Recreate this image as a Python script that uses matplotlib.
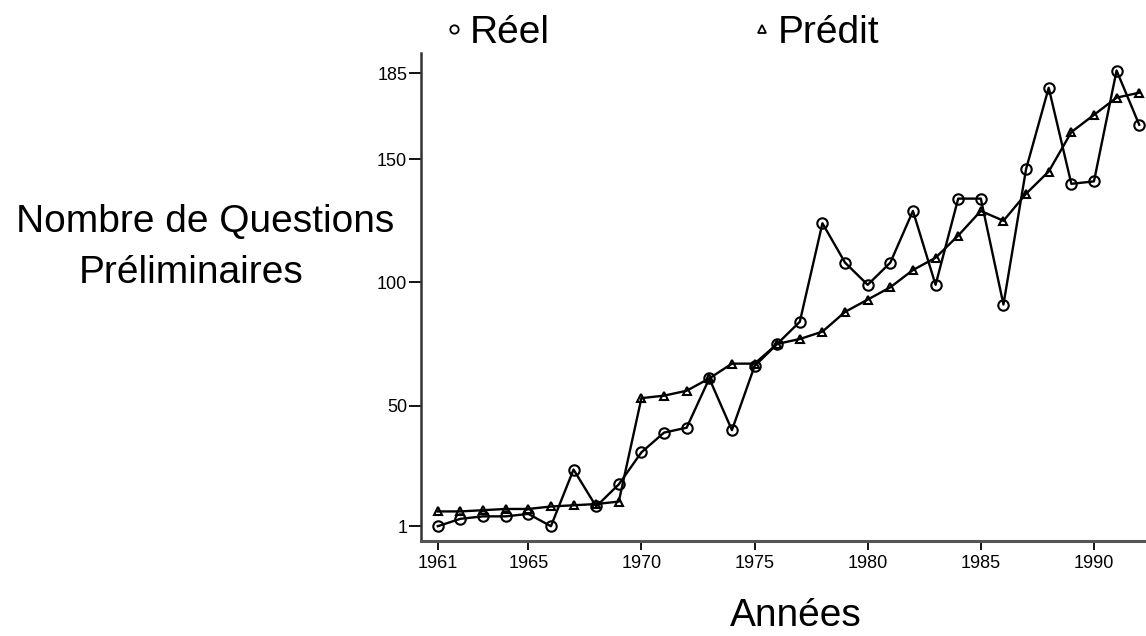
# Questions preliminaires par annee : reel vs predit

import matplotlib
matplotlib.use("Agg")
import matplotlib.pyplot as plt
from matplotlib.lines import Line2D

annees = list(range(1961, 1993))
reel = [1, 4, 5, 5, 6, 1, 24, 9, 18, 31, 39, 41, 61, 40, 66, 75,
        84, 124, 108, 99, 108, 129, 99, 134, 134, 91, 146, 179, 140, 141, 186, 164]
predit = [7, 7, 7.5, 8, 8, 9, 9.5, 10, 11, 53, 54, 56, 61, 67, 67, 75,
          77, 80, 88, 93, 98, 105, 110, 119, 129, 125, 136, 145, 161, 168, 175, 177]
yticks = [1, 50, 100, 150, 185]
xticks = [1961, 1965, 1970, 1975, 1980, 1985, 1990]

plt.rcParams["font.family"] = ["Liberation Sans", "DejaVu Sans"]

fig = plt.figure(figsize=(11.46, 6.36), dpi=100)
ax = fig.add_axes([0.3674, 0.1494, 0.6326, 0.7668])

ax.plot(annees, reel, "-o", color="black", lw=1.7, ms=7.5, mfc="none",
        mec="black", mew=1.5, clip_on=False)
ax.plot(annees, predit, "-^", color="black", lw=1.7, ms=6, mfc="none",
        mec="black", mew=1.5, clip_on=False)

ax.set_xlim(1960.26, 1992.3)
ax.set_ylim(-5, 193)
ax.set_xticks(xticks)
ax.set_yticks(yticks)
ax.tick_params(axis="y", length=8.5, width=1.3, pad=1.5, labelsize=13)
ax.tick_params(axis="x", length=6.5, width=1.3, pad=3.5, labelsize=13)

for s in ["top", "right"]:
    ax.spines[s].set_visible(False)
ax.spines["left"].set_linewidth(1.8)
ax.spines["left"].set_color("#333333")
ax.spines["bottom"].set_linewidth(2.2)
ax.spines["bottom"].set_color("#555555")

ax.set_xlabel("Années", fontsize=28)
ax.xaxis.set_label_coords(0.517, -0.117)

# titre de l'axe y en deux lignes, comme dans l'original
fig.text(205 / 1146, 1 - 232 / 636, "Nombre de Questions", fontsize=28,
         ha="center", va="baseline")
fig.text(191 / 1146, 1 - 283 / 636, "Préliminaires", fontsize=28,
         ha="center", va="baseline")

handles = [
    Line2D([], [], marker="o", ls="none", mfc="none", mec="black", ms=6, mew=1.3),
    Line2D([], [], marker="^", ls="none", mfc="none", mec="black", ms=5.5, mew=1.3),
]
fig.legend(handles, ["Réel", "Prédit"], loc="center left",
           bbox_to_anchor=(0.3591, 0.948), ncol=2, frameon=False, fontsize=28,
           handlelength=0.4, handletextpad=0.2, columnspacing=5.25)

fig.savefig("out.png", dpi=100)
